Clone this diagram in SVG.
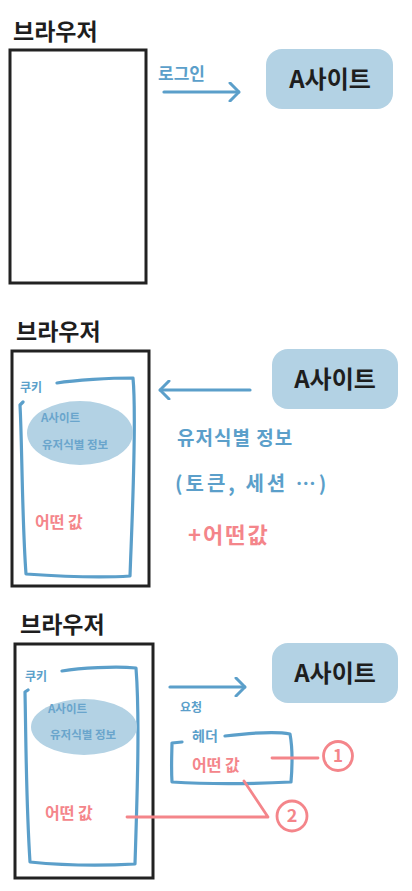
<svg xmlns="http://www.w3.org/2000/svg" width="412" height="891" viewBox="0 0 412 891">
<defs>
<style>
.hand{font-family:"Noto Sans CJK KR","Noto Sans",sans-serif;font-weight:700}
.title{font-size:23px;fill:#1e1e1e}
.site{font-size:24px;fill:#1e1e1e}
.browser{fill:none;stroke:#222;stroke-width:3}
.sitebox{fill:#b3d2e4}
.bl{fill:none;stroke:#5b9fca;stroke-width:3.2;stroke-linecap:round;stroke-linejoin:round}
.blt{fill:#5b9fca}
.ell{fill:#b3d2e4}
.ellt{fill:#6aa5cc;font-size:11.5px}
.red{fill:#f4858a}
.rl{fill:none;stroke:#f4858a;stroke-width:2.8;stroke-linecap:round;stroke-linejoin:round}
</style>
<marker id="ah" viewBox="0 0 12 20" refX="11" refY="10" markerWidth="12" markerHeight="20" markerUnits="userSpaceOnUse" orient="auto">
<polyline points="2,1 11,10 2,19" fill="none" stroke="#5b9fca" stroke-width="3" stroke-linecap="round" stroke-linejoin="round"/>
</marker>
</defs>
<rect width="412" height="891" fill="#fff"/>

<!-- Panel 1 -->
<g id="browser1">
<text class="hand title" x="13" y="40">브라우저</text>
<rect class="browser" x="10" y="50" width="136" height="233"/>
</g>
<g id="site1">
<rect class="sitebox" x="266" y="49" width="127" height="60" rx="16"/>
<text class="hand site" x="330" y="88" text-anchor="middle">A사이트</text>
</g>

<!-- Panel 2 -->
<g id="browser2">
<text class="hand title" x="16" y="340">브라우저</text>
<rect class="browser" x="12" y="351" width="137" height="235"/>
</g>
<g id="cookie2">
<path class="bl" d="M57,383 C75,380 110,378 133,378 C137,420 132,520 130,576 C100,578 55,576 26,574 C22,520 22,440 20,405 L23,402"/>
<text class="hand blt" x="20" y="392" font-size="12">쿠키</text>
<ellipse class="ell" cx="80" cy="433" rx="53" ry="32"/>
<text class="hand ellt" x="41" y="422">A사이트</text>
<text class="hand ellt" x="42" y="449">유저식별 정보</text>
<text class="hand red" x="35" y="528" font-size="16">어떤 값</text>
</g>
<g id="site2">
<rect class="sitebox" x="272" y="349" width="126" height="60" rx="16"/>
<text class="hand site" x="335" y="388" text-anchor="middle">A사이트</text>
</g>
<g id="info2">
<text class="hand blt" x="177" y="445" font-size="19" letter-spacing="1">유저식별 정보</text>
<text class="hand blt" x="175" y="491" font-size="20" letter-spacing="3">(토큰, 세션 …)</text>
<text class="hand red" x="188" y="543" font-size="22" letter-spacing="2">+어떤값</text>
</g>

<!-- Panel 3 -->
<g id="browser3">
<text class="hand title" x="20" y="633">브라우저</text>
<rect class="browser" x="15" y="644" width="138" height="234"/>
</g>
<g id="cookie3">
<path class="bl" d="M62,671 C80,668 115,666 136,668 C140,720 137,800 135,864 C100,866 60,865 30,862 C26,800 26,740 25,692 L28,690"/>
<text class="hand blt" x="25" y="681" font-size="12">쿠키</text>
<ellipse class="ell" cx="84" cy="727" rx="53" ry="28"/>
<text class="hand ellt" x="48" y="713">A사이트</text>
<text class="hand ellt" x="50" y="739">유저식별 정보</text>
<text class="hand red" x="45" y="819" font-size="16">어떤 값</text>
</g>
<g id="site3">
<rect class="sitebox" x="272" y="643" width="126" height="60" rx="16"/>
<text class="hand site" x="335" y="682" text-anchor="middle">A사이트</text>
</g>
<g id="request3">
<text class="hand blt" x="180" y="712" font-size="12">요청</text>
</g>
<g id="header3">
<path class="bl" d="M225,736 C250,733 275,731 290,734 C293,750 292,770 291,782 C250,784 205,784 172,782 C171,765 172,750 172,743 L182,742"/>
<text class="hand blt" x="192" y="741" font-size="14">헤더</text>
<text class="hand red" x="192" y="771" font-size="16">어떤 값</text>
</g>
<g id="mark1">
<circle class="rl" cx="338" cy="756" r="14.5"/>
<text class="hand red" x="338" y="762" font-size="17" text-anchor="middle">1</text>
</g>
<g id="mark2">
<circle class="rl" cx="292" cy="816" r="15"/>
<text class="hand red" x="292" y="822" font-size="18" text-anchor="middle">2</text>
</g>

<!-- Connectors -->
<g id="connectors">
<line class="bl" x1="164" y1="92" x2="239" y2="92" marker-end="url(#ah)"/>
<text class="hand blt" x="158" y="80" font-size="17">로그인</text>
<line class="bl" x1="250" y1="390" x2="160" y2="390" marker-end="url(#ah)"/>
<line class="bl" x1="170" y1="687" x2="245" y2="687" marker-end="url(#ah)"/>
<line class="rl" x1="272" y1="758" x2="318" y2="758"/>
<polyline class="rl" points="244,781 268,817 127,817"/>
</g>
</svg>
